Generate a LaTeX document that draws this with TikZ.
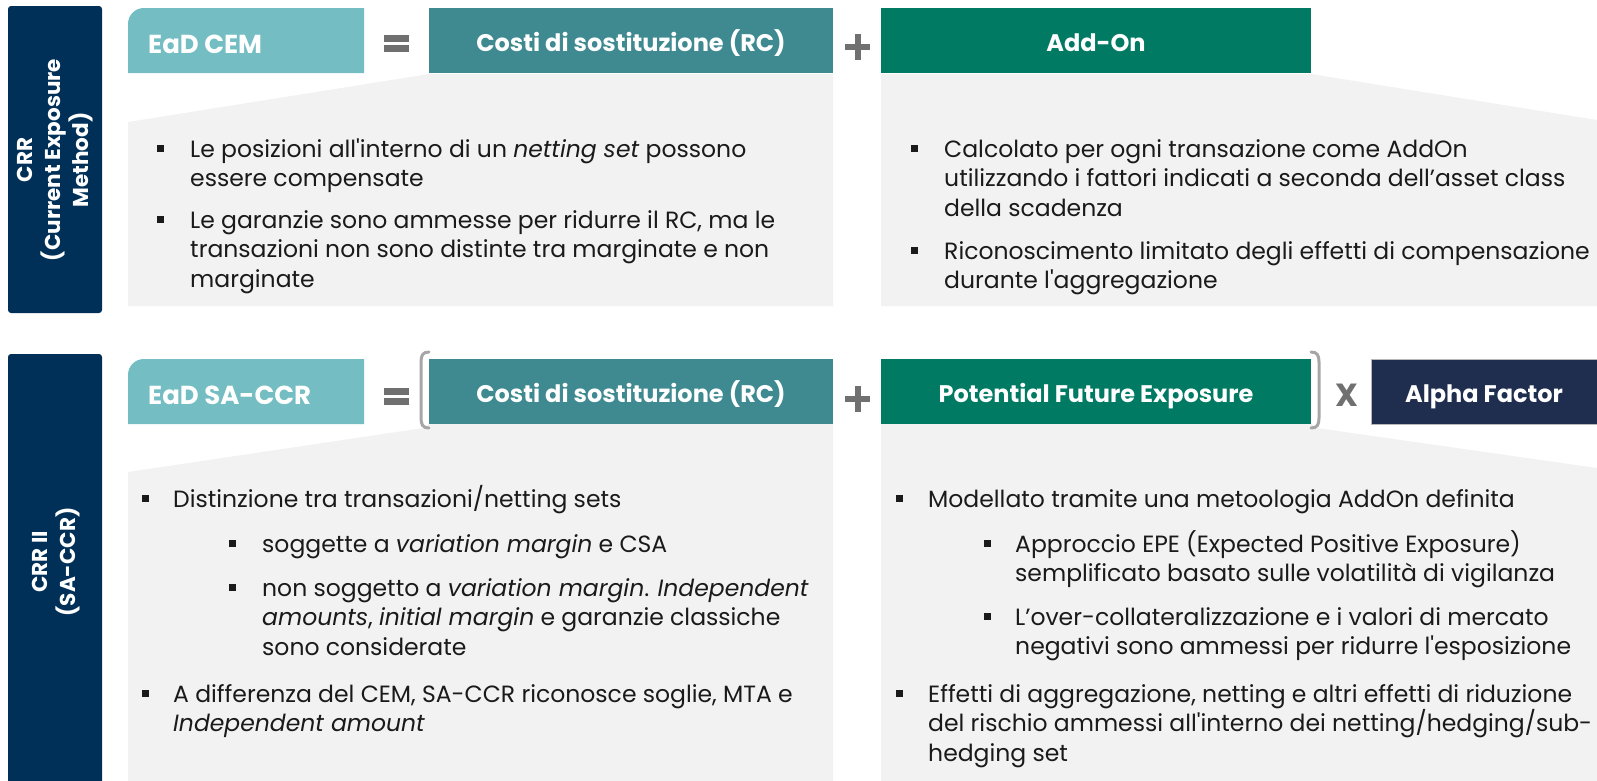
\documentclass[tikz,border=0pt]{standalone}
\usepackage{fontspec}
\setmainfont{Poppins}
\definecolor{navy}{RGB}{0,48,87}
\definecolor{eadc}{RGB}{116,190,195}
\definecolor{rcc}{RGB}{62,138,144}
\definecolor{greenc}{RGB}{0,122,99}
\definecolor{alphac}{RGB}{31,45,79}
\definecolor{panelc}{RGB}{242,242,242}
\definecolor{symc}{RGB}{112,112,112}
\definecolor{brc}{RGB}{166,166,166}
\definecolor{textc}{RGB}{26,26,26}
\newcommand{\bodyf}{\fontsize{23.5}{29.5}\selectfont}
\newcommand{\hdrf}{\bfseries\fontsize{24}{26}\selectfont}
\newcommand{\eadf}{\bfseries\fontsize{26}{30}\selectfont}
\newcommand{\sidef}{\bfseries\fontsize{21.5}{28}\selectfont}
\newcommand{\ap}{\textquotesingle}
\tikzset{
  panel/.style={fill=panelc},
  hbox/.style={minimum height=65pt, inner sep=0pt, text=white, font=\hdrf, text height=21pt, text depth=0pt},
  bulsq/.style={fill=textc, minimum size=7pt, inner sep=0pt},
  txt/.style={anchor=base west, inner sep=0pt, text=textc, font=\bodyf},
  sidet/.style={rotate=90, text=white, align=center, font=\sidef},
  symbar/.style={fill=symc},
  brk/.style={draw=brc, line width=3pt, line cap=round},
}
\newcommand{\bitem}[5]{%
  \node[bulsq] (#1b) at (#2,#4-8.5) {};
  \node[txt] (#1) at (#3,#4) {\parbox[t]{760pt}{\raggedright #5}};}
\begin{document}
\begin{tikzpicture}[x=1pt,y=-1pt]
\useasboundingbox (0,0) rectangle (1597,780);
% ---------- TOP ----------
\fill[navy, rounded corners=3pt] (8,6) rectangle (102,313);
\node[sidet] (side1) at (55,160) {CRR\\(Current Exposure\\Method)};
% panels
\fill[panel] (128,122) -- (429,74) -- (833,74) -- (833,306) -- (128,306) -- cycle;
\fill[panel] (881,74) -- (1311,74) -- (1597,120) -- (1597,306) -- (881,306) -- cycle;
% boxes
\fill[eadc] (128,73) -- (128,24) .. controls (128,15) and (135,8) .. (144,8) -- (364,8) -- (364,73) -- cycle;
\node[anchor=west, text=white, font=\eadf, inner sep=0pt] (ead1) at (148,44) {EaD CEM};
\node[hbox, fill=rcc, minimum width=404pt] (rc1) at (631,40.5) {Costi di sostituzione (RC)};
\node[hbox, fill=greenc, minimum width=430pt] (ao1) at (1096,40.5) {Add-On};
% symbols
\fill[symbar] (384,35) rectangle (409,42);
\fill[symbar] (384,45) rectangle (409,52);
\fill[symbar] (845,44) rectangle (870,50);
\fill[symbar] (854.5,34) rectangle (860.5,60);
% text
\bitem{t1}{160}{190}{157}{Le posizioni all\ap interno di un \textit{netting set} possono\\essere compensate}
\bitem{t2}{160}{190}{228}{Le garanzie sono ammesse per ridurre il RC, ma le\\transazioni non sono distinte tra marginate e non\\marginate}
\bitem{t3}{914}{944}{157}{Calcolato per ogni transazione come AddOn\\utilizzando i fattori indicati a seconda dell’asset class\\della scadenza}
\bitem{t4}{914}{944}{259}{\mbox{Riconoscimento limitato degli effetti di compensazione}\\durante l\ap aggregazione}
% ---------- BOTTOM ----------
\fill[navy, rounded corners=3pt] (8,354) rectangle (102,790);
\node[sidet] (side2) at (56,562) {CRR II\\(SA-CCR)};
\fill[panel] (128,472) -- (423,428) -- (429,424) -- (833,424) -- (833,790) -- (128,790) -- cycle;
\fill[panel] (881,424) -- (1311,424) -- (1317,428) -- (1597,468) -- (1597,790) -- (881,790) -- cycle;
\fill[eadc] (128,424) -- (128,375) .. controls (128,366) and (135,359) .. (144,359) -- (364,359) -- (364,424) -- cycle;
\node[anchor=west, text=white, font=\eadf, inner sep=0pt] (ead2) at (148,395) {EaD SA-CCR};
\node[hbox, fill=rcc, minimum width=404pt] (rc2) at (631,391.5) {Costi di sostituzione (RC)};
\node[hbox, fill=greenc, minimum width=430pt] (pfe) at (1096,391.5) {Potential Future Exposure};
\node[hbox, fill=alphac, draw=brc!80, line width=0.8pt, minimum width=226pt] (alpha) at (1484,391.5) {Alpha Factor};
\fill[symbar] (384,388) rectangle (409,395);
\fill[symbar] (384,398) rectangle (409,405);
\fill[symbar] (845,396) rectangle (870,402);
\fill[symbar] (854.5,386) rectangle (860.5,412);
\node[text=symc, font=\bfseries\fontsize{32}{32}\selectfont, inner sep=0pt] (times) at (1347,395) {X};
\draw[brk] (429,352) .. controls (423,352) and (421,355) .. (421,362) -- (421,418) .. controls (421,425) and (423,428) .. (429,428);
\draw[brk] (1311,352) .. controls (1317,352) and (1319,355) .. (1319,362) -- (1319,418) .. controls (1319,425) and (1317,428) .. (1311,428);
\bitem{b1}{145}{173}{507}{Distinzione tra transazioni/netting sets}
\bitem{b2}{232}{262}{552}{soggette a \textit{variation margin} e CSA}
\bitem{b3}{232}{262}{596}{non soggetto a \textit{variation margin}. \textit{Independent}\\\textit{amounts}, \textit{initial margin} e garanzie classiche\\sono considerate}
\bitem{b4}{145}{173}{702}{A differenza del CEM, SA-CCR riconosce soglie, MTA e\\\textit{Independent amount}}
\bitem{b5}{899}{928}{507}{Modellato tramite una metoologia AddOn definita}
\bitem{b6}{987}{1015}{552}{Approccio EPE (Expected Positive Exposure)\\semplificato basato sulle volatilità di vigilanza}
\bitem{b7}{987}{1015}{625}{L’over-collateralizzazione e i valori di mercato\\negativi sono ammessi per ridurre l\ap esposizione}
\bitem{b8}{899}{928}{702}{Effetti di aggregazione, netting e altri effetti di riduzione\\del rischio ammessi all\ap interno dei netting/hedging/sub-\\hedging set}
\end{tikzpicture}
\end{document}
